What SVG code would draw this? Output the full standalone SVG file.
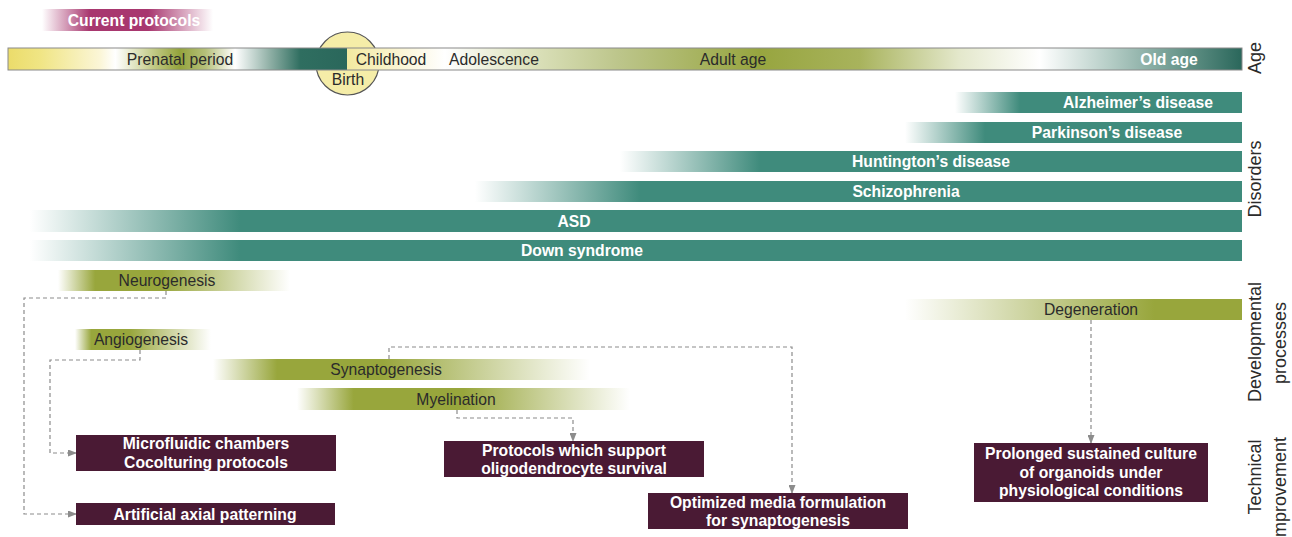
<svg xmlns="http://www.w3.org/2000/svg" width="1292" height="537" viewBox="0 0 1292 537">
<style>
text{font-family:"Liberation Sans",Arial,sans-serif;}
.reg{font-size:15.7px;fill:#2b2b2b;text-anchor:middle;dominant-baseline:central;}
.bw{font-size:15.7px;fill:#ffffff;font-weight:bold;text-anchor:middle;dominant-baseline:central;}
.side{font-size:18px;fill:#2b2b2b;text-anchor:middle;dominant-baseline:central;}
.box{fill:#4a1a34;}
.teal{fill:#3f8b7c;}
.conn{fill:none;stroke:#8c8c8c;stroke-width:1.2;stroke-dasharray:4 3;}
</style>
<defs>
<linearGradient id="ageG" gradientUnits="userSpaceOnUse" x1="8" y1="0" x2="1242" y2="0">
<stop offset="0" stop-color="#ebdc6a"/>
<stop offset="0.026" stop-color="#f0e584"/>
<stop offset="0.075" stop-color="#fbf6d8"/>
<stop offset="0.087" stop-color="#ffffff"/>
<stop offset="0.115" stop-color="#c8cf90"/>
<stop offset="0.139" stop-color="#94a33c"/>
<stop offset="0.16" stop-color="#b5c07a"/>
<stop offset="0.184" stop-color="#ffffff"/>
<stop offset="0.212" stop-color="#90b0a6"/>
<stop offset="0.237" stop-color="#2f6e60"/>
<stop offset="0.275" stop-color="#2a675b"/>
<stop offset="0.275" stop-color="#f3e9a0"/>
<stop offset="0.318" stop-color="#faf5d5"/>
<stop offset="0.354" stop-color="#ffffff"/>
<stop offset="0.415" stop-color="#e0e5c2"/>
<stop offset="0.496" stop-color="#bcc58a"/>
<stop offset="0.609" stop-color="#97a53f"/>
<stop offset="0.69" stop-color="#a8b35c"/>
<stop offset="0.771" stop-color="#e4e8cc"/>
<stop offset="0.836" stop-color="#ffffff"/>
<stop offset="0.893" stop-color="#b5cdc6"/>
<stop offset="0.958" stop-color="#5f8f84"/>
<stop offset="1" stop-color="#2a675b"/>
</linearGradient>
<linearGradient id="fadeT" x1="0" y1="0" x2="1" y2="0">
<stop offset="0" stop-color="#3f8b7c" stop-opacity="0"/>
<stop offset="1" stop-color="#3f8b7c" stop-opacity="1"/>
</linearGradient>
<linearGradient id="cpG" x1="0" y1="0" x2="1" y2="0">
<stop offset="0" stop-color="#a8376f" stop-opacity="0"/>
<stop offset="0.28" stop-color="#a8376f" stop-opacity="1"/>
<stop offset="0.62" stop-color="#a8376f" stop-opacity="1"/>
<stop offset="1" stop-color="#a8376f" stop-opacity="0"/>
</linearGradient>
<linearGradient id="neuG" x1="0" y1="0" x2="1" y2="0">
<stop offset="0" stop-color="#98a63c" stop-opacity="0"/>
<stop offset="0.16" stop-color="#98a63c" stop-opacity="1"/>
<stop offset="0.45" stop-color="#98a63c" stop-opacity="1"/>
<stop offset="1" stop-color="#98a63c" stop-opacity="0"/>
</linearGradient>
<linearGradient id="angG" x1="0" y1="0" x2="1" y2="0">
<stop offset="0" stop-color="#98a63c" stop-opacity="0"/>
<stop offset="0.12" stop-color="#98a63c" stop-opacity="1"/>
<stop offset="0.4" stop-color="#98a63c" stop-opacity="1"/>
<stop offset="1" stop-color="#98a63c" stop-opacity="0"/>
</linearGradient>
<linearGradient id="synG" x1="0" y1="0" x2="1" y2="0">
<stop offset="0" stop-color="#98a63c" stop-opacity="0"/>
<stop offset="0.17" stop-color="#98a63c" stop-opacity="1"/>
<stop offset="0.45" stop-color="#98a63c" stop-opacity="1"/>
<stop offset="1" stop-color="#98a63c" stop-opacity="0"/>
</linearGradient>
<linearGradient id="myeG" x1="0" y1="0" x2="1" y2="0">
<stop offset="0" stop-color="#98a63c" stop-opacity="0"/>
<stop offset="0.17" stop-color="#98a63c" stop-opacity="1"/>
<stop offset="0.5" stop-color="#98a63c" stop-opacity="1"/>
<stop offset="1" stop-color="#98a63c" stop-opacity="0"/>
</linearGradient>
<linearGradient id="degG" x1="0" y1="0" x2="1" y2="0">
<stop offset="0" stop-color="#98a63c" stop-opacity="0"/>
<stop offset="0.74" stop-color="#98a63c" stop-opacity="1"/>
<stop offset="1" stop-color="#98a63c" stop-opacity="1"/>
</linearGradient>
<marker id="arr" markerWidth="9" markerHeight="7" refX="8" refY="3.5" orient="auto" markerUnits="userSpaceOnUse">
<path d="M0,0 L9,3.5 L0,7 z" fill="#8c8c8c"/>
</marker>
</defs>

<g id="current-protocols">
<rect x="42" y="9" width="171" height="22" fill="url(#cpG)"/>
<text class="bw" x="134" y="20">Current protocols</text>
</g>

<g id="age-bar">
<circle cx="347.5" cy="63.5" r="31.5" fill="#f5eda8" stroke="#555555" stroke-width="1.2"/>
<rect x="8" y="48" width="1234" height="22" fill="url(#ageG)" stroke="#8a8a8a" stroke-width="1"/>
<text class="reg" x="180" y="59.5">Prenatal period</text>
<text class="reg" x="391" y="59.5">Childhood</text>
<text class="reg" x="494" y="59.5">Adolescence</text>
<text class="reg" x="733" y="59.5">Adult age</text>
<text class="bw" x="1169" y="59.5">Old age</text>
<text class="reg" x="348" y="79.5">Birth</text>
</g>

<g id="side-labels">
<text class="side" transform="translate(1255,58) rotate(-90)">Age</text>
<text class="side" transform="translate(1255,179) rotate(-90)">Disorders</text>
<text class="side" transform="translate(1255,342) rotate(-90)">Developmental</text>
<text class="side" transform="translate(1280,343) rotate(-90)">processes</text>
<text class="side" transform="translate(1255,477) rotate(-90)">Technical</text>
<text class="side" transform="translate(1280,489) rotate(-90)">improvement</text>
</g>

<g id="alzheimers">
<rect x="955" y="92" width="65" height="21" fill="url(#fadeT)"/>
<rect class="teal" x="1020" y="92" width="222" height="21"/>
<text class="bw" x="1138" y="102.5">Alzheimer’s disease</text>
</g>
<g id="parkinsons">
<rect x="905" y="122" width="80" height="21" fill="url(#fadeT)"/>
<rect class="teal" x="985" y="122" width="257" height="21"/>
<text class="bw" x="1107" y="132.5">Parkinson’s disease</text>
</g>
<g id="huntingtons">
<rect x="620" y="151" width="140" height="21" fill="url(#fadeT)"/>
<rect class="teal" x="760" y="151" width="482" height="21"/>
<text class="bw" x="931" y="161.5">Huntington’s disease</text>
</g>
<g id="schizophrenia">
<rect x="475" y="181" width="165" height="21" fill="url(#fadeT)"/>
<rect class="teal" x="640" y="181" width="602" height="21"/>
<text class="bw" x="906" y="191.5">Schizophrenia</text>
</g>
<g id="asd">
<rect x="30" y="210" width="210" height="22" fill="url(#fadeT)"/>
<rect class="teal" x="240" y="210" width="1002" height="22"/>
<text class="bw" x="574" y="221">ASD</text>
</g>
<g id="down-syndrome">
<rect x="30" y="240" width="210" height="21" fill="url(#fadeT)"/>
<rect class="teal" x="240" y="240" width="1002" height="21"/>
<text class="bw" x="582" y="250.5">Down syndrome</text>
</g>

<g id="neurogenesis">
<rect x="58" y="270" width="232" height="21" fill="url(#neuG)"/>
<text class="reg" x="167" y="280.5">Neurogenesis</text>
</g>
<g id="angiogenesis">
<rect x="75" y="329" width="136" height="21" fill="url(#angG)"/>
<text class="reg" x="141" y="339.5">Angiogenesis</text>
</g>
<g id="synaptogenesis">
<rect x="213" y="359" width="377" height="21" fill="url(#synG)"/>
<text class="reg" x="386" y="369.5">Synaptogenesis</text>
</g>
<g id="myelination">
<rect x="297" y="388" width="333" height="22" fill="url(#myeG)"/>
<text class="reg" x="456" y="399">Myelination</text>
</g>
<g id="degeneration">
<rect x="905" y="299" width="337" height="21" fill="url(#degG)"/>
<text class="reg" x="1091" y="309.5">Degeneration</text>
</g>

<g id="connectors">
<polyline class="conn" points="166,291 166,298 24,298 24,514 76,514" marker-end="url(#arr)"/>
<polyline class="conn" points="140,350 140,360 50,360 50,453 76,453" marker-end="url(#arr)"/>
<polyline class="conn" points="389,359 389,347 792,347 792,493" marker-end="url(#arr)"/>
<polyline class="conn" points="457,410 457,418 573,418 573,441" marker-end="url(#arr)"/>
<polyline class="conn" points="1091,320 1091,443" marker-end="url(#arr)"/>
</g>

<g id="microfluidic">
<rect class="box" x="76" y="435" width="260" height="36"/>
<text class="bw" x="206" y="443.5">Microfluidic chambers</text>
<text class="bw" x="206" y="462.5">Cocolturing protocols</text>
</g>
<g id="artificial-axial">
<rect class="box" x="76" y="503" width="259" height="22"/>
<text class="bw" x="205" y="514">Artificial axial patterning</text>
</g>
<g id="oligodendrocyte">
<rect class="box" x="444" y="441" width="260" height="36"/>
<text class="bw" x="574" y="450.5">Protocols which support</text>
<text class="bw" x="574" y="468.5">oligodendrocyte survival</text>
</g>
<g id="media">
<rect class="box" x="648" y="493" width="260" height="36"/>
<text class="bw" x="778" y="502.5">Optimized media formulation</text>
<text class="bw" x="778" y="520.5">for synaptogenesis</text>
</g>
<g id="prolonged">
<rect class="box" x="974" y="443" width="234" height="59"/>
<text class="bw" x="1091" y="453.5">Prolonged sustained culture</text>
<text class="bw" x="1091" y="472">of organoids under</text>
<text class="bw" x="1091" y="490.5">physiological conditions</text>
</g>
</svg>
